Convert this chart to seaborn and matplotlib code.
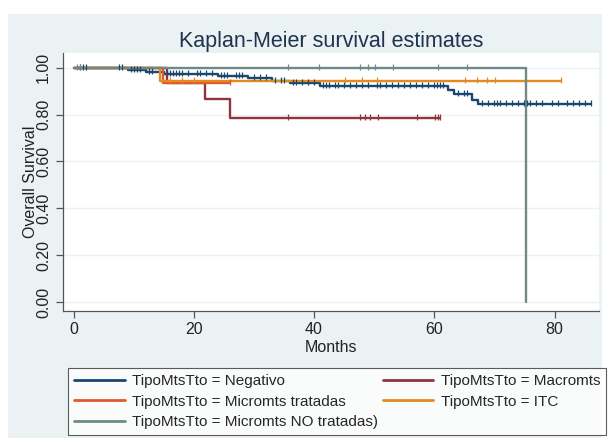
import numpy as np
import pandas as pd
import matplotlib
matplotlib.use("Agg")
import matplotlib.pyplot as plt
from matplotlib.lines import Line2D
from matplotlib.patches import Rectangle
import seaborn as sns

# Kaplan-Meier step data (months, survival)
groups = ["Negativo", "Macromts", "Micromts tratadas", "ITC", "Micromts NO tratadas)"]
colors = ["#1a476f", "#90353b", "#e4572e", "#e38b1c", "#6f8a86"]

neg_t = [0, 9, 12, 15, 24, 29, 33, 36, 41, 62.3, 63.2, 66.2, 67.2, 86]
neg_s = [1.0, 0.992, 0.984, 0.975, 0.965, 0.955, 0.945, 0.935, 0.922, 0.905, 0.89, 0.862, 0.845, 0.845]
mac_t = [0, 15.5, 21.8, 26, 61]
mac_s = [1.0, 0.933, 0.867, 0.787, 0.787]
mtr_t = [0, 14.8, 26]
mtr_s = [1.0, 0.935, 0.935]
itc_t = [0, 14.4, 81.1]
itc_s = [1.0, 0.945, 0.945]
mno_t = [0, 75.3]
mno_s = [1.0, 0.0]

# censored observations (tick marks)
neg_c = [1, 1.5, 2, 7.5, 8, 9.5, 10, 10.5, 11, 12.5, 13, 15.5, 16, 16.5, 17, 17.5, 18, 19,
         20.5, 21, 22, 23, 24.5, 25, 25.5, 27, 27.5, 28, 30, 31, 32, 33.5, 34.5, 35, 36.5,
         37, 38, 39, 40, 41.5, 42, 42.5, 43.5, 44, 45, 46, 47, 48, 49, 50.5, 51, 52, 53, 54,
         55, 56, 57, 58, 59, 60, 60.5, 61, 61.5, 64, 65, 65.5, 68, 69, 70, 70.5, 71, 72, 73,
         74, 75, 75.5, 76, 77, 78, 79.5, 80.5, 82, 83, 84, 85, 86]
mac_c = [35.6, 47.7, 48.5, 49.3, 50.7, 57.1, 60.2, 60.7, 61]
mtr_c = [26]
itc_c = [16, 18, 20, 45.2, 48, 50.4, 65.1, 67.1, 68.8, 70.1, 81.1]
mno_c = [0.5, 1, 35.7, 40.9, 47.7, 49, 50.2, 53.2, 60.6, 65.5]

times = [neg_t, mac_t, mtr_t, itc_t, mno_t]
survs = [neg_s, mac_s, mtr_s, itc_s, mno_s]
cens = [neg_c, mac_c, mtr_c, itc_c, mno_c]

rows = []
for g, t, s in zip(groups, times, survs):
    for ti, si in zip(t, s):
        rows.append({"group": g, "months": ti, "surv": si})
df = pd.DataFrame(rows)

sns.set_theme(style="white")
plt.rcParams["font.family"] = ["Liberation Sans", "DejaVu Sans"]

fig = plt.figure(figsize=(6.1, 4.46), dpi=100)
fig.patch.set_facecolor("white")
fig.patches.append(Rectangle((8 / 610, 8 / 446), 594 / 610, 424 / 446,
                             transform=fig.transFigure, facecolor="#eaf2f3",
                             edgecolor="none", zorder=-10))

ax = fig.add_axes([63 / 610, (446 - 310.7) / 446, 536 / 610, 257.7 / 446])
ax.set_facecolor("white")

pal = dict(zip(groups, colors))
sns.lineplot(data=df, x="months", y="surv", hue="group", palette=pal,
             hue_order=groups, estimator=None, sort=False,
             drawstyle="steps-post", linewidth=1.7, legend=False, ax=ax)

for t, s, c, col in zip(times, survs, cens, colors):
    idx = np.searchsorted(t, c, side="right") - 1
    ax.plot(c, np.array(s)[idx] + 0.004, linestyle="none", marker="|",
            markersize=5, markeredgewidth=0.9, color=col)

ax.set_xlim(-1.75, 87.4)
ax.set_ylim(-0.037, 1.063)
ax.set_xticks([0, 20, 40, 60, 80])
ax.set_yticks([0, 0.2, 0.4, 0.6, 0.8, 1.0])
ax.set_yticklabels([f"{v:.2f}" for v in [0, 0.2, 0.4, 0.6, 0.8, 1.0]])
ax.yaxis.grid(True, color="#eaf2f3", linewidth=1.0)
ax.set_axisbelow(True)

for side in ["top", "right"]:
    ax.spines[side].set_visible(False)
for side in ["left", "bottom"]:
    ax.spines[side].set_color("#555555")
    ax.spines[side].set_linewidth(0.9)

ax.tick_params(axis="both", which="both", length=5, width=0.9, color="#555555",
               labelsize=11.5, labelcolor="#222222", bottom=True, left=True)
ax.tick_params(axis="y", labelrotation=90, pad=3.5)
ax.tick_params(axis="x", pad=3)
for lab in ax.get_yticklabels():
    lab.set_va("center")

ax.set_xlabel("Months", fontsize=11.5, color="#222222", labelpad=2)
ax.set_ylabel("Overall Survival", fontsize=11.5, color="#222222")
ax.yaxis.set_label_coords(-0.047, 0.5)

fig.text(331 / 610, (446 - 41) / 446, "Kaplan-Meier survival estimates",
         ha="center", va="center", fontsize=15.5, color="#1e3450")

order = [0, 2, 4, 1, 3]
handles = [Line2D([], [], color=colors[i], linewidth=2) for i in order]
labels = ["TipoMtsTto = " + groups[i] for i in order]
leg = fig.legend(handles, labels, ncol=2, loc="upper left",
                 bbox_to_anchor=(68 / 610, (446 - 368) / 446),
                 fontsize=11, frameon=True, fancybox=False,
                 edgecolor="#333333", facecolor="white", handlelength=3.3,
                 handletextpad=0.5, borderpad=0.4, borderaxespad=0,
                 labelspacing=0.42, columnspacing=0.3)
leg.get_frame().set_linewidth(0.8)

fig.savefig("out.png", dpi=100)
